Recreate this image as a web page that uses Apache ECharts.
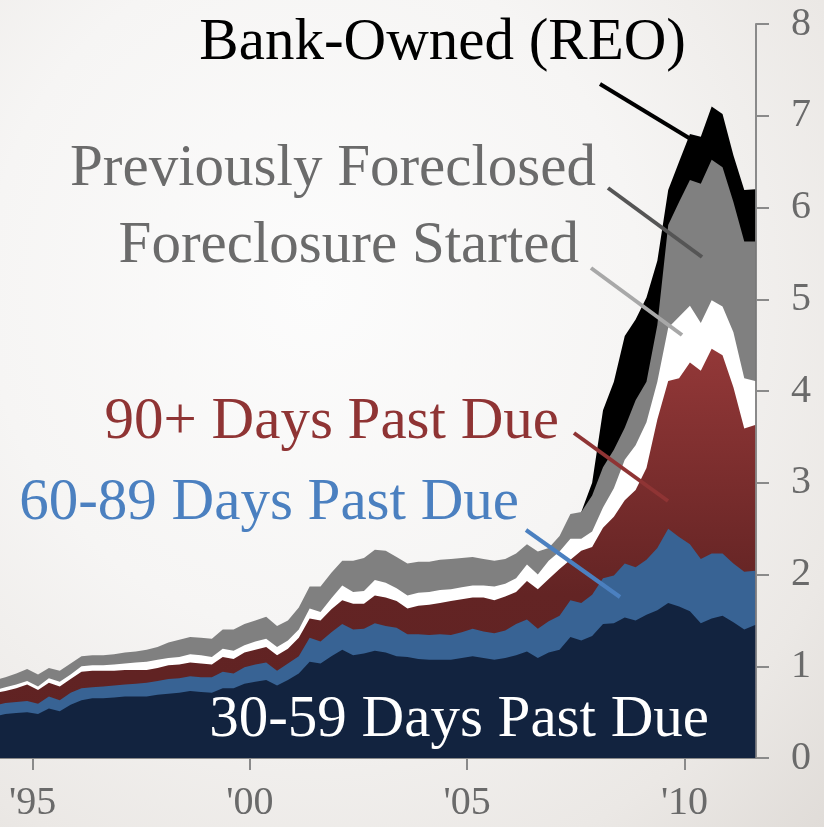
<!DOCTYPE html>
<html>
<head>
<meta charset="utf-8">
<title>Mortgage delinquency and foreclosure</title>
<script src="https://cdn.jsdelivr.net/npm/echarts@6/dist/echarts.min.js"></script>
<style>
  html, body { margin: 0; padding: 0; }
  #main {
    width: 824px; height: 827px;
    background: radial-gradient(ellipse at 38% 35%, #fcfcfc 0%, #f6f5f4 45%, #ebe8e5 80%, #e0dcd8 100%);
  }
</style>
</head>
<body>
<div id="main"></div>
<script>
// quarters 1994Q1 .. 2011Q3
const quarters = [
  '1994Q1', '1994Q2', '1994Q3', '1994Q4', '1995Q1', '1995Q2', '1995Q3', '1995Q4',
  '1996Q1', '1996Q2', '1996Q3', '1996Q4', '1997Q1', '1997Q2', '1997Q3', '1997Q4',
  '1998Q1', '1998Q2', '1998Q3', '1998Q4', '1999Q1', '1999Q2', '1999Q3', '1999Q4',
  '2000Q1', '2000Q2', '2000Q3', '2000Q4', '2001Q1', '2001Q2', '2001Q3', '2001Q4',
  '2002Q1', '2002Q2', '2002Q3', '2002Q4', '2003Q1', '2003Q2', '2003Q3', '2003Q4',
  '2004Q1', '2004Q2', '2004Q3', '2004Q4', '2005Q1', '2005Q2', '2005Q3', '2005Q4',
  '2006Q1', '2006Q2', '2006Q3', '2006Q4', '2007Q1', '2007Q2', '2007Q3', '2007Q4',
  '2008Q1', '2008Q2', '2008Q3', '2008Q4', '2009Q1', '2009Q2', '2009Q3', '2009Q4',
  '2010Q1', '2010Q2', '2010Q3', '2010Q4', '2011Q1', '2011Q2', '2011Q3'
];

// percent of loans, each layer's own share (stacked bottom -> top)
const pastDue30 = [
  0.45, 0.48, 0.49, 0.50, 0.48, 0.54, 0.51, 0.58,
  0.63, 0.65, 0.65, 0.66, 0.67, 0.67, 0.67, 0.69,
  0.70, 0.71, 0.73, 0.72, 0.71, 0.76, 0.76, 0.81,
  0.83, 0.85, 0.79, 0.85, 0.92, 1.05, 1.03, 1.11,
  1.18, 1.12, 1.14, 1.17, 1.15, 1.11, 1.10, 1.08,
  1.07, 1.07, 1.07, 1.09, 1.11, 1.09, 1.07, 1.09,
  1.12, 1.16, 1.09, 1.15, 1.18, 1.32, 1.28, 1.33,
  1.46, 1.47, 1.53, 1.50, 1.56, 1.61, 1.69, 1.65,
  1.60, 1.47, 1.52, 1.55, 1.48, 1.40, 1.45
];
const pastDue60 = [
  0.12, 0.12, 0.12, 0.12, 0.11, 0.13, 0.12, 0.13,
  0.13, 0.12, 0.13, 0.13, 0.13, 0.14, 0.15, 0.15,
  0.16, 0.16, 0.16, 0.16, 0.17, 0.18, 0.16, 0.18,
  0.19, 0.19, 0.16, 0.18, 0.19, 0.26, 0.24, 0.26,
  0.28, 0.28, 0.27, 0.30, 0.29, 0.31, 0.25, 0.27,
  0.27, 0.28, 0.27, 0.28, 0.30, 0.29, 0.29, 0.30,
  0.34, 0.35, 0.32, 0.34, 0.37, 0.40, 0.41, 0.45,
  0.50, 0.52, 0.59, 0.58, 0.60, 0.68, 0.81, 0.76,
  0.73, 0.70, 0.71, 0.68, 0.64, 0.63, 0.59
];
const pastDue90 = [
  0.14, 0.13, 0.15, 0.18, 0.15, 0.15, 0.15, 0.15,
  0.18, 0.18, 0.17, 0.16, 0.16, 0.15, 0.14, 0.14,
  0.15, 0.15, 0.15, 0.15, 0.14, 0.16, 0.16, 0.16,
  0.16, 0.17, 0.17, 0.16, 0.20, 0.21, 0.23, 0.25,
  0.26, 0.28, 0.27, 0.30, 0.31, 0.29, 0.28, 0.31,
  0.33, 0.34, 0.37, 0.36, 0.34, 0.37, 0.36, 0.37,
  0.35, 0.42, 0.43, 0.46, 0.51, 0.44, 0.57, 0.52,
  0.55, 0.64, 0.69, 0.84, 1.00, 1.40, 1.61, 1.73,
  1.98, 2.05, 2.23, 2.16, 1.92, 1.56, 1.59
];
const foreclosureStarted = [
  0.03, 0.04, 0.04, 0.04, 0.04, 0.05, 0.05, 0.05,
  0.06, 0.06, 0.06, 0.07, 0.07, 0.08, 0.09, 0.09,
  0.08, 0.08, 0.09, 0.09, 0.08, 0.09, 0.09, 0.08,
  0.09, 0.09, 0.09, 0.09, 0.09, 0.11, 0.09, 0.12,
  0.16, 0.13, 0.14, 0.17, 0.16, 0.14, 0.14, 0.14,
  0.14, 0.14, 0.13, 0.13, 0.13, 0.13, 0.15, 0.14,
  0.15, 0.18, 0.16, 0.20, 0.19, 0.23, 0.13, 0.17,
  0.22, 0.31, 0.44, 0.49, 0.50, 0.41, 0.58, 0.67,
  0.62, 0.52, 0.53, 0.53, 0.60, 0.55, 0.48
];
const previouslyForeclosed = [
  0.11, 0.11, 0.12, 0.13, 0.13, 0.11, 0.12, 0.12,
  0.11, 0.11, 0.11, 0.11, 0.12, 0.12, 0.13, 0.14,
  0.17, 0.19, 0.19, 0.19, 0.20, 0.21, 0.23, 0.23,
  0.23, 0.24, 0.23, 0.22, 0.24, 0.24, 0.28, 0.28,
  0.27, 0.34, 0.36, 0.33, 0.35, 0.34, 0.35, 0.34,
  0.33, 0.33, 0.33, 0.32, 0.31, 0.29, 0.28, 0.27,
  0.27, 0.22, 0.25, 0.14, 0.17, 0.27, 0.29, 0.39,
  0.44, 0.42, 0.35, 0.49, 0.44, 0.62, 1.12, 1.25,
  1.37, 1.52, 1.53, 1.52, 1.42, 1.49, 1.52
];
const bankOwned = [
  0, 0, 0, 0, 0, 0, 0, 0,
  0, 0, 0, 0, 0, 0, 0, 0,
  0, 0, 0, 0, 0, 0, 0, 0,
  0, 0, 0, 0, 0, 0, 0, 0,
  0, 0, 0, 0, 0, 0, 0, 0,
  0, 0, 0, 0, 0, 0, 0, 0,
  0, 0, 0, 0, 0, 0, 0, 0.14,
  0.62, 0.74, 1.00, 0.88, 0.92, 0.70, 0.38, 0.44,
  0.50, 0.51, 0.58, 0.58, 0.51, 0.56, 0.57
];

const yearTicks = [1995, 2000, 2005, 2010];

const FONT = 'Liberation Serif';

// quarter -> decimal year at the middle of the quarter
const toYear = q => Number(q.slice(0, 4)) + (Number(q.slice(5)) - 0.5) / 4;

// ECharts stacks the x dimension when both axes are 'value', so the layers are
// piled up here and each one is drawn as an area from 0 to its running total
const layers = [
    {name: '30-59 Days Past Due', data: pastDue30, color: '#12233f'},
    {name: '60-89 Days Past Due', data: pastDue60, color: '#386394'},
    {name: '90+ Days Past Due', data: pastDue90, color: new echarts.graphic.LinearGradient(0, 0, 0, 1, [
        {offset: 0, color: '#933838'},
        {offset: 0.32, color: '#7a2d2d'},
        {offset: 0.6, color: '#632424'},
        {offset: 1, color: '#5f2222'}
    ])},
    {name: 'Foreclosure Started', data: foreclosureStarted, color: '#ffffff'},
    {name: 'Previously Foreclosed', data: previouslyForeclosed, color: '#808080'},
    {name: 'Bank-Owned (REO)', data: bankOwned, color: '#000000'}
];

let running = quarters.map(() => 0);
const series = layers.map(l => {
    running = running.map((s, i) => s + l.data[i]);
    const tops = running.slice();
    // a layer with nothing yet stays hidden behind the one below it
    const first = Math.max(0, l.data.findIndex(v => v > 0) - 1);
    return {
        name: l.name,
        type: 'line',
        data: tops.map((v, i) => [toYear(quarters[i]), i < first ? null : v]),
        symbol: 'none',
        smooth: false,
        connectNulls: false,
        lineStyle: {width: 0},
        areaStyle: {color: l.color, opacity: 1},
        emphasis: {disabled: true}
    };
}).reverse();

const label = (text, x, y, color) => ({
    type: 'text', z: 100,
    style: {text: text, x: x, y: y, fill: color, font: '59px "' + FONT + '"', align: 'right', verticalAlign: 'middle'}
});
const leader = (x1, y1, x2, y2, color) => ({
    type: 'line', z: 100,
    shape: {x1: x1, y1: y1, x2: x2, y2: y2},
    style: {stroke: color, lineWidth: 4}
});

const chart = echarts.init(document.getElementById('main'), null, {renderer: 'canvas'});

const option = {
    backgroundColor: 'transparent',
    animation: false,
    grid: {left: 0, right: 68, top: 24, bottom: 69},
    xAxis: {
        type: 'value',
        min: 1994.25,
        max: 2011.645,
        axisLine: {show: true, lineStyle: {color: '#8a8a8a', width: 2}},
        axisTick: {show: true, customValues: yearTicks, length: 12, lineStyle: {color: '#8a8a8a', width: 2}},
        axisLabel: {
            customValues: yearTicks,
            formatter: v => "'" + String(v).slice(2),
            fontFamily: FONT, fontSize: 40, color: '#6a6a6a', margin: 25
        },
        splitLine: {show: false}
    },
    yAxis: {
        type: 'value',
        position: 'right',
        min: 0, max: 8, interval: 1,
        axisLine: {show: true, lineStyle: {color: '#8a8a8a', width: 2}},
        axisTick: {show: true, length: 13, lineStyle: {color: '#8a8a8a', width: 2}},
        axisLabel: {fontFamily: FONT, fontSize: 40, color: '#6a6a6a', margin: 35},
        splitLine: {show: false}
    },
    series: series,
    graphic: [
        label('Bank-Owned (REO)', 686, 43, '#000000'),
        label('Previously Foreclosed', 596, 169, '#6b6b6b'),
        label('Foreclosure Started', 579, 246, '#6b6b6b'),
        label('90+ Days Past Due', 559, 422, '#8f3434'),
        label('60-89 Days Past Due', 519, 503, '#4b80c0'),
        label('30-59 Days Past Due', 709, 720, '#ffffff'),
        leader(600, 84, 689, 138, '#000000'),
        leader(608, 188, 702, 257, '#555555'),
        leader(591, 268, 682, 335, '#a8a8a8'),
        leader(574, 433, 668, 501, '#8f3434'),
        leader(526, 530, 620, 597, '#4b80c0')
    ]
};

chart.setOption(option);
</script>
</body>
</html>
